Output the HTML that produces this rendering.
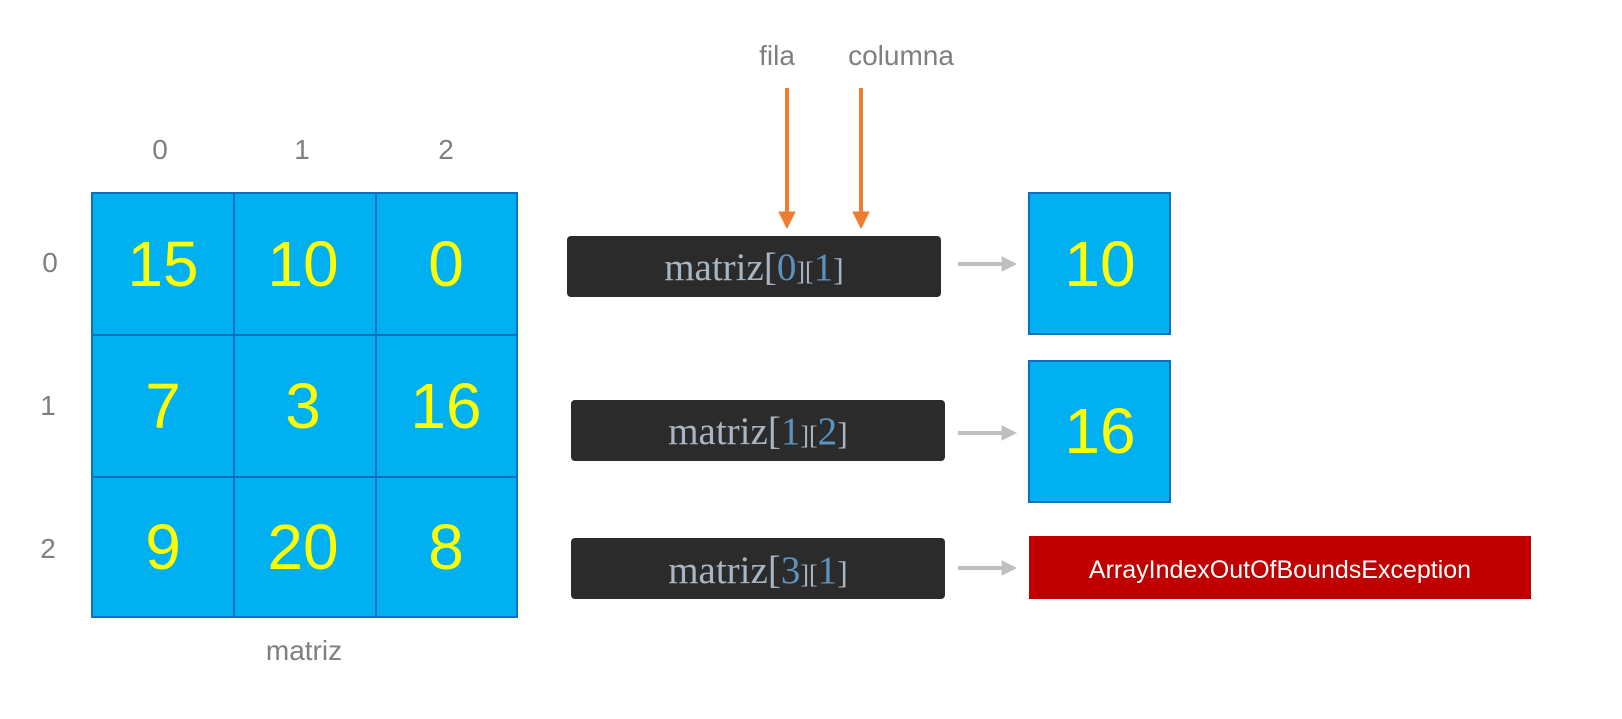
<!DOCTYPE html>
<html><head><meta charset="utf-8"><style>body{margin:0;background:#fff}</style></head>
<body>
<svg width="1622" height="714" xmlns="http://www.w3.org/2000/svg">
<g font-family="Liberation Sans, sans-serif" fill="#7f7f7f" font-size="28" text-anchor="middle">
<text x="160" y="159">0</text><text x="302" y="159">1</text><text x="446" y="159">2</text>
<text x="50" y="272">0</text><text x="48" y="415">1</text><text x="48" y="558">2</text>
<text x="304" y="660">matriz</text>
<text x="777" y="65">fila</text><text x="901" y="65">columna</text>
</g>
<g fill="#00b0f0" stroke="#0f6fc0" stroke-width="2">
<rect x="92" y="193" width="142" height="142"/><rect x="234" y="193" width="142" height="142"/><rect x="376" y="193" width="141" height="142"/>
<rect x="92" y="335" width="142" height="142"/><rect x="234" y="335" width="142" height="142"/><rect x="376" y="335" width="141" height="142"/>
<rect x="92" y="477" width="142" height="140"/><rect x="234" y="477" width="142" height="140"/><rect x="376" y="477" width="141" height="140"/>
<rect x="1029" y="193" width="141" height="141"/><rect x="1029" y="361" width="141" height="141"/>
</g>
<g font-family="Liberation Sans, sans-serif" fill="#ffff00" font-size="64" text-anchor="middle">
<text x="163" y="286">15</text><text x="303" y="286">10</text><text x="446" y="286">0</text>
<text x="163" y="428">7</text><text x="303" y="428">3</text><text x="446" y="428">16</text>
<text x="163" y="569">9</text><text x="303" y="569">20</text><text x="446" y="569">8</text>
<text x="1100" y="286">10</text><text x="1100" y="453">16</text>
</g>
<rect x="1029" y="536" width="502" height="63" fill="#c00000"/>
<text x="1280" y="578" font-family="Liberation Sans, sans-serif" font-size="25" fill="#fff" text-anchor="middle">ArrayIndexOutOfBoundsException</text>
<g fill="#2b2b2b">
<rect x="567" y="236" width="374" height="61" rx="4"/>
<rect x="571" y="400" width="374" height="61" rx="4"/>
<rect x="571" y="538" width="374" height="61" rx="4"/>
</g>
<g font-family="Liberation Serif, serif" font-size="39" fill="#a8b5c3" text-anchor="middle">
<text x="754" y="280">matriz[<tspan fill="#5b93c0">0</tspan><tspan font-size="26">][</tspan><tspan fill="#5b93c0">1</tspan><tspan font-size="32">]</tspan></text>
<text x="758" y="444">matriz[<tspan fill="#5b93c0">1</tspan><tspan font-size="26">][</tspan><tspan fill="#5b93c0">2</tspan><tspan font-size="32">]</tspan></text>
<text x="758" y="583">matriz[<tspan fill="#5b93c0">3</tspan><tspan font-size="26">][</tspan><tspan fill="#5b93c0">1</tspan><tspan font-size="32">]</tspan></text>
</g>
<g stroke="#ed7d31" stroke-width="4" fill="#ed7d31">
<line x1="787" y1="88" x2="787" y2="214"/><polygon points="779,212 787,228 795,212" stroke-width="1"/>
<line x1="861" y1="88" x2="861" y2="214"/><polygon points="853,212 861,228 869,212" stroke-width="1"/>
</g>
<g stroke="#bfbfbf" stroke-width="4" fill="#bfbfbf">
<line x1="958" y1="264" x2="1006" y2="264"/><polygon points="1002,257 1016,264 1002,271" stroke-width="1"/>
<line x1="958" y1="433" x2="1006" y2="433"/><polygon points="1002,426 1016,433 1002,440" stroke-width="1"/>
<line x1="958" y1="568" x2="1006" y2="568"/><polygon points="1002,561 1016,568 1002,575" stroke-width="1"/>
</g>
</svg>
</body></html>
